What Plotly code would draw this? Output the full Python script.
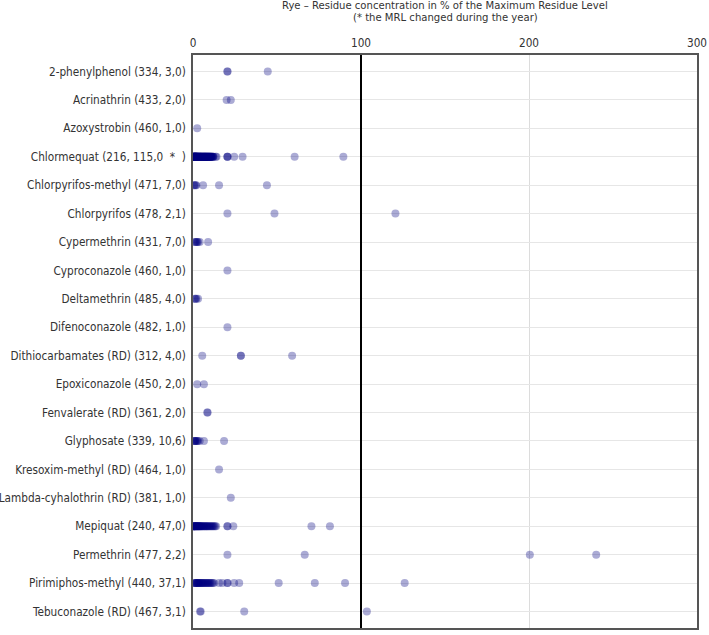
import plotly.graph_objects as go

# labels: substance (samples, results <=MRL, results >MRL)
substances = [
    "2-phenylphenol (334, 3,0)",
    "Acrinathrin (433, 2,0)",
    "Azoxystrobin (460, 1,0)",
    "Chlormequat (216, 115,0\u00a0 *\u00a0 )",
    "Chlorpyrifos-methyl (471, 7,0)",
    "Chlorpyrifos (478, 2,1)",
    "Cypermethrin (431, 7,0)",
    "Cyproconazole (460, 1,0)",
    "Deltamethrin (485, 4,0)",
    "Difenoconazole (482, 1,0)",
    "Dithiocarbamates (RD) (312, 4,0)",
    "Epoxiconazole (450, 2,0)",
    "Fenvalerate (RD) (361, 2,0)",
    "Glyphosate (339, 10,6)",
    "Kresoxim-methyl (RD) (464, 1,0)",
    "Lambda-cyhalothrin (RD) (381, 1,0)",
    "Mepiquat (240, 47,0)",
    "Permethrin (477, 2,2)",
    "Pirimiphos-methyl (440, 37,1)",
    "Tebuconazole (RD) (467, 3,1)",
]

title_lines = ["Rye \u2013 Residue concentration in % of the Maximum Residue Level",
               "(* the MRL changed during the year)"]

# residue concentration in % of the MRL, per substance
phenylphenol = [20.5, 20.5, 44.5]
acrinathrin = [20.0, 22.5]
azoxystrobin = [2.5]
chlormequat = [
    0.2, 0.3, 0.4, 0.5, 0.6, 0.7, 0.8, 0.9, 1.0, 1.1,
    1.2, 1.3, 1.4, 1.5, 1.6, 1.7, 1.8, 1.9, 2.0, 2.1,
    2.2, 2.4, 2.5, 2.6, 2.8, 3.0, 3.1, 3.2, 3.4, 3.5,
    3.6, 3.8, 4.0, 4.1, 4.2, 4.4, 4.5, 4.6, 4.8, 5.0,
    5.1, 5.2, 5.4, 5.5, 5.6, 5.8, 6.0, 6.1, 6.2, 6.4,
    6.5, 6.6, 6.8, 7.0, 7.1, 7.2, 7.4, 7.5, 7.6, 7.8,
    8.0, 8.1, 8.2, 8.4, 8.5, 8.6, 8.8, 9.0, 9.2, 9.4,
    9.5, 9.6, 9.8, 10.0, 10.2, 10.4, 10.5, 10.6, 10.8, 11.0,
    11.2, 11.5, 11.8, 12.0, 12.2, 0.5, 1.0, 1.5, 2.0, 2.5,
    3.0, 0.8, 1.2, 1.8, 2.2, 0.6, 1.4, 4.0, 5.0, 3.3,
    6.3, 7.3, 13.5, 14.0, 20.5, 20.5, 20.5, 24.5, 29.5, 60.5,
    89.5, 0.9, 2.7, 4.3, 9.1,
]
chlorpyrifos_methyl = [0.5, 1.0, 1.5, 2.0, 6.0, 15.5, 44.0]
chlorpyrifos = [20.5, 48.5, 120.5]
cypermethrin = [1.0, 1.5, 2.0, 2.5, 3.0, 4.0, 9.0]
cyproconazole = [20.5]
deltamethrin = [1.0, 1.5, 2.0, 3.0]
difenoconazole = [20.5]
dithiocarbamates = [5.5, 28.5, 28.5, 59.0]
epoxiconazole = [2.5, 6.5]
fenvalerate = [8.5, 8.7]
glyphosate = [0.5, 1.0, 1.2, 1.5, 2.0, 2.5, 3.0, 4.0, 6.5, 18.5]
kresoxim_methyl = [15.5]
lambda_cyhalothrin = [22.5]
mepiquat = [
    0.3, 0.6, 0.9, 1.2, 1.5, 1.8, 2.1, 2.4, 2.7, 3.0,
    3.3, 3.6, 3.9, 4.2, 4.5, 4.8, 5.1, 5.4, 5.8, 6.2,
    6.6, 7.0, 7.4, 7.8, 8.2, 8.6, 9.0, 9.5, 10.0, 10.5,
    11.0, 11.5, 12.0, 12.6, 13.2, 13.8, 0.8, 1.6, 2.5, 3.5,
    0.5, 1.0, 20.5, 20.5, 24.0, 70.5, 81.5,
]
permethrin = [20.5, 66.5, 200.5, 240.0]
pirimiphos_methyl = [
    0.8, 1.2, 1.6, 2.0, 2.4, 2.8, 3.2, 3.6, 4.0, 4.4,
    4.8, 5.2, 5.6, 6.0, 6.5, 7.0, 7.5, 8.0, 8.5, 9.0,
    9.5, 10.0, 10.6, 11.2, 11.8, 12.5, 1.5, 3.0, 15.5, 17.5,
    20.5, 20.5, 24.5, 27.5, 51.0, 72.5, 90.5, 126.0,
]
tebuconazole = [4.2, 4.6, 30.5, 103.5]

series = [phenylphenol, acrinathrin, azoxystrobin, chlormequat, chlorpyrifos_methyl,
          chlorpyrifos, cypermethrin, cyproconazole, deltamethrin, difenoconazole,
          dithiocarbamates, epoxiconazole, fenvalerate, glyphosate, kresoxim_methyl,
          lambda_cyhalothrin, mepiquat, permethrin, pirimiphos_methyl, tebuconazole]

xs = []
ys = []
for name, vals in zip(substances, series):
    xs += vals
    ys += [name] * len(vals)

FONT = "DejaVu Sans Condensed, Liberation Sans, sans-serif"

fig = go.Figure()
fig.add_trace(go.Scatter(x=xs, y=ys, mode="markers",
                         marker=dict(size=8, color="rgb(0,0,128)", opacity=0.33),
                         hoverinfo="x+y", showlegend=False))

# MRL = 100 %
fig.add_shape(type="line", x0=100, x1=100, y0=0, y1=1, xref="x", yref="paper",
              line=dict(color="black", width=2))

# two title lines
for txt, shift in zip(title_lines, [50, 38]):
    fig.add_annotation(text=txt, x=0.5, y=1, xref="paper", yref="paper",
                       yanchor="middle", yshift=shift, showarrow=False,
                       font=dict(family=FONT, size=11.2, color="#333333"))

fig.update_layout(
    width=709, height=635,
    margin=dict(l=193, r=12, t=55, b=7),
    plot_bgcolor="white", paper_bgcolor="white",
    font=dict(family=FONT, size=11.7, color="#333333"),
)
fig.update_xaxes(side="top", range=[0, 300], tickvals=[0, 100, 200, 300],
                 showgrid=True, gridcolor="#dcdcdc", gridwidth=1, zeroline=False,
                 showline=True, mirror=True, linecolor="#555555", linewidth=1.5,
                 ticks="outside", ticklen=2, tickcolor="rgba(0,0,0,0)", automargin=False)
fig.update_yaxes(categoryorder="array", categoryarray=substances,
                 range=[19.58, -0.58], showgrid=True, gridcolor="#e6e6e6", gridwidth=1,
                 zeroline=False, showline=True, mirror=True, linecolor="#555555",
                 linewidth=1.5, ticks="outside", ticklen=3, tickcolor="rgba(0,0,0,0)",
                 automargin=False)

# drop the default page margin so the figure fills the window
fig.write_html("out.html", config={"displayModeBar": False},
               post_script="document.body.style.margin='0';")
